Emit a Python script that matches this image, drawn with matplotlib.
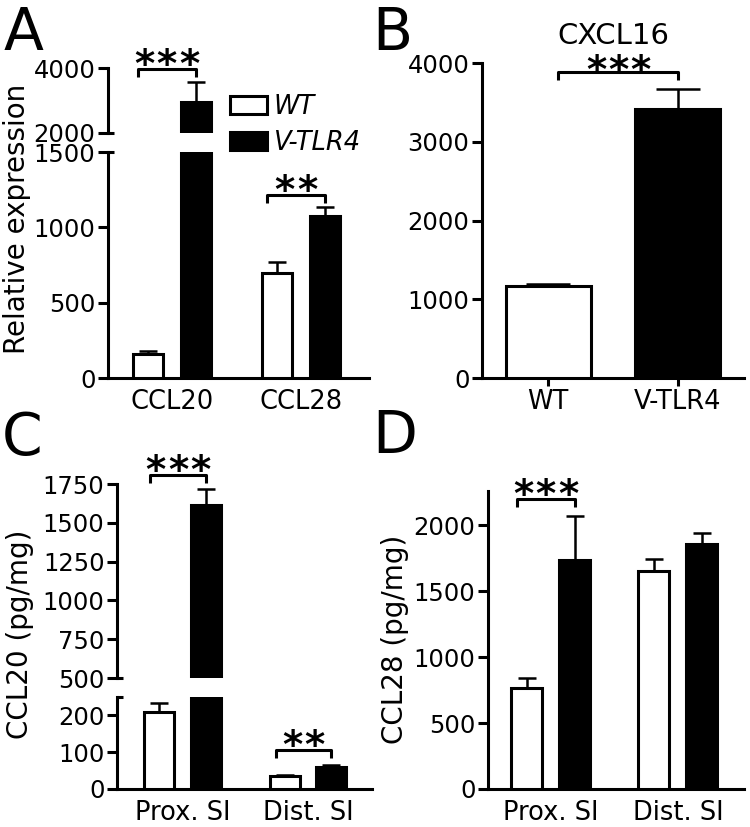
import numpy as np
import matplotlib
matplotlib.use("Agg")
import matplotlib.pyplot as plt
from matplotlib.patches import Patch

plt.rcParams.update({
    "font.family": "DejaVu Sans",
    "font.size": 17.5,
    "axes.linewidth": 2.2,
    "xtick.major.width": 2.2,
    "ytick.major.width": 2.2,
    "ytick.major.size": 7,
    "xtick.major.size": 6,
    "ytick.major.pad": 2,
})

# Panel A - relative expression (qPCR)
genes_A = ["CCL20", "CCL28"]
wt_A = [160, 694]
wt_A_err = [20, 78]
tlr4_A = [2954, 1072]
tlr4_A_err = [615, 60]

# Panel B - CXCL16
groups_B = ["WT", "V-TLR4"]
vals_B = [1164, 3412]
errs_B = [34, 262]

# Panel C - CCL20 protein
sites = ["Prox. SI", "Dist. SI"]
wt_C = [208, 34]
wt_C_err = [26, 3]
tlr4_C = [1616, 61]
tlr4_C_err = [102, 4]

# Panel D - CCL28 protein
wt_D = [768, 1652]
wt_D_err = [75, 95]
tlr4_D = [1740, 1861]
tlr4_D_err = [331, 83]

# significance brackets: (label, group index, bracket level)
sig_A = [("***", 0, 3970), ("**", 1, 1213)]
sig_B = [("***", 3886)]
sig_C = [("***", 0, 1808), ("**", 1, 106)]
sig_D = [("***", 0, 2197)]

W, H = 750, 827
fig = plt.figure(figsize=(W / 100, H / 100), dpi=100)

XLAB = 18.5
YLAB = 20


def box(l, t, r, b):
    return [l / W, 1 - b / H, (r - l) / W, (b - t) / H]


def px_down(ax, y, dpx):
    yd = ax.transData.transform((0, y))[1] - dpx
    return ax.transData.inverted().transform((0, yd))[1]


def bracket(ax, x0, x1, y, label, drop=8, lift=-5.5):
    yl = px_down(ax, y, drop)
    ax.plot([x0, x0, x1, x1], [yl, y, y, yl], color="black", lw=2.2,
            clip_on=False, solid_capstyle="butt", zorder=5)
    n = len(label)
    mid = (x0 + x1) / 2
    for i in range(n):
        dx = (i - (n - 1) / 2) * 16
        ax.annotate("*", (mid, y), xytext=(dx, lift), textcoords="offset points",
                    ha="center", va="baseline", fontsize=28, fontweight="bold",
                    annotation_clip=False)


def style(ax, bottom=True):
    ax.spines["top"].set_visible(False)
    ax.spines["right"].set_visible(False)
    if not bottom:
        ax.spines["bottom"].set_visible(False)
        ax.tick_params(axis="x", bottom=False, labelbottom=False)


def grouped(axs, wt, wt_err, tl, tl_err, w, off, capsize=6.5):
    x = np.arange(len(wt))
    for ax in axs:
        ax.bar(x - off, wt, w, color="white", edgecolor="black", lw=2.2, zorder=3)
        ax.bar(x + off, tl, w, color="black", edgecolor="black", lw=2.2, zorder=3)
        ax.errorbar(x - off, wt, yerr=[np.zeros(len(wt)), wt_err], fmt="none",
                    ecolor="black", elinewidth=1.8, capsize=capsize, capthick=1.8, zorder=2)
        ax.errorbar(x + off, tl, yerr=[np.zeros(len(tl)), tl_err], fmt="none",
                    ecolor="black", elinewidth=1.8, capsize=capsize, capthick=1.8, zorder=2)
    return x


def break_mark(ax, y):
    ax.plot([0, 0.022], [y, y], color="black", lw=2.2, clip_on=False,
            transform=ax.get_yaxis_transform(), solid_capstyle="butt")


# ---------- Panel A ----------
axA_lo = fig.add_axes(box(108, 152, 369, 378))
axA_hi = fig.add_axes(box(108, 68, 369, 133))
xA = grouped([axA_lo, axA_hi], wt_A, wt_A_err, tlr4_A, tlr4_A_err, 0.24, 0.186)
for ax in (axA_lo, axA_hi):
    ax.set_xlim(-0.496, 1.527)
axA_lo.set_ylim(0, 1500)
axA_lo.set_yticks([0, 500, 1000, 1500])
axA_hi.set_ylim(2000, 4000)
axA_hi.set_yticks([2000, 4000])
style(axA_lo)
style(axA_hi, bottom=False)
axA_lo.set_xticks(xA)
axA_lo.set_xticklabels(genes_A, fontsize=XLAB)
axA_lo.tick_params(axis="x", length=0, pad=8)
break_mark(axA_lo, 1500)
break_mark(axA_hi, 2000)
for lab, g, y in sig_A:
    ax = axA_hi if y > 1500 else axA_lo
    bracket(ax, xA[g] - 0.186 - 0.08, xA[g] + 0.186, y, lab)
fig.text(17 / W, 1 - 219 / H, "Relative expression", rotation=90,
         ha="center", va="center", fontsize=YLAB)
fig.legend(handles=[Patch(facecolor="white", edgecolor="black", lw=2.2),
                    Patch(facecolor="black", edgecolor="black", lw=2.2)],
           labels=["WT", "V-TLR4"], prop={"style": "italic", "size": 18.5},
           loc="upper left", bbox_to_anchor=(230 / W, 1 - 94 / H),
           frameon=False, borderpad=0, borderaxespad=0,
           handlelength=1.45, handleheight=0.7, handletextpad=0.25,
           labelspacing=0.38)

# ---------- Panel B ----------
axB = fig.add_axes(box(482, 63, 744, 378))
xB = np.arange(len(groups_B))
axB.bar(xB, vals_B, 0.654, color=["white", "black"], edgecolor="black", lw=2.2, zorder=3)
axB.errorbar(xB, vals_B, yerr=[np.zeros(2), errs_B], fmt="none", ecolor="black",
             elinewidth=1.8, capsize=15.5, capthick=1.8, zorder=2)
axB.set_xlim(-0.508, 1.508)
axB.set_ylim(0, 4000)
axB.set_yticks([0, 1000, 2000, 3000, 4000])
axB.set_xticks(xB)
axB.set_xticklabels(groups_B, fontsize=XLAB)
axB.tick_params(axis="x", length=6, pad=2)
style(axB)
axB.set_title("CXCL16", pad=14, fontsize=21)
for lab, y in sig_B:
    bracket(axB, xB[0] + 0.08, xB[1], y, lab, lift=-8)

# ---------- Panel C ----------
axC_lo = fig.add_axes(box(117, 697, 372, 789))
axC_hi = fig.add_axes(box(117, 484, 372, 678))
xC = grouped([axC_lo, axC_hi], wt_C, wt_C_err, tlr4_C, tlr4_C_err, 0.239, 0.187)
for ax in (axC_lo, axC_hi):
    ax.set_xlim(-0.522, 1.51)
axC_lo.set_ylim(0, 250)
axC_lo.set_yticks([0, 100, 200])
axC_hi.set_ylim(500, 1750)
axC_hi.set_yticks([500, 750, 1000, 1250, 1500, 1750])
style(axC_lo)
style(axC_hi, bottom=False)
axC_lo.set_xticks(xC)
axC_lo.set_xticklabels(sites, fontsize=XLAB)
axC_lo.tick_params(axis="x", length=0, pad=8)
break_mark(axC_lo, 250)
break_mark(axC_hi, 500)
for lab, g, y in sig_C:
    ax = axC_hi if y > 250 else axC_lo
    bracket(ax, xC[g] - 0.187 - 0.07, xC[g] + 0.187, y, lab)
fig.text(20 / W, 1 - 634 / H, "CCL20 (pg/mg)", rotation=90, ha="center",
         va="center", fontsize=YLAB)

# ---------- Panel D ----------
axD = fig.add_axes(box(488, 491, 744, 789))
xD = grouped([axD], wt_D, wt_D_err, tlr4_D, tlr4_D_err, 0.244, 0.189)
axD.set_xlim(-0.496, 1.52)
axD.set_ylim(0, 2260)
axD.set_yticks([0, 500, 1000, 1500, 2000])
axD.set_xticks(xD)
axD.set_xticklabels(sites, fontsize=XLAB)
axD.tick_params(axis="x", length=0, pad=8)
style(axD)
for lab, g, y in sig_D:
    bracket(axD, xD[g] - 0.189 - 0.08, xD[g] + 0.189, y, lab)
fig.text(395 / W, 1 - 639 / H, "CCL28 (pg/mg)", rotation=90, ha="center",
         va="center", fontsize=YLAB)

# panel letters
for lab, x, y in [("A", 4, 50), ("B", 372, 50), ("C", 2, 455), ("D", 372, 453)]:
    fig.text(x / W, 1 - y / H, lab, fontsize=42, ha="left", va="baseline")

fig.savefig("out.png", dpi=100)
